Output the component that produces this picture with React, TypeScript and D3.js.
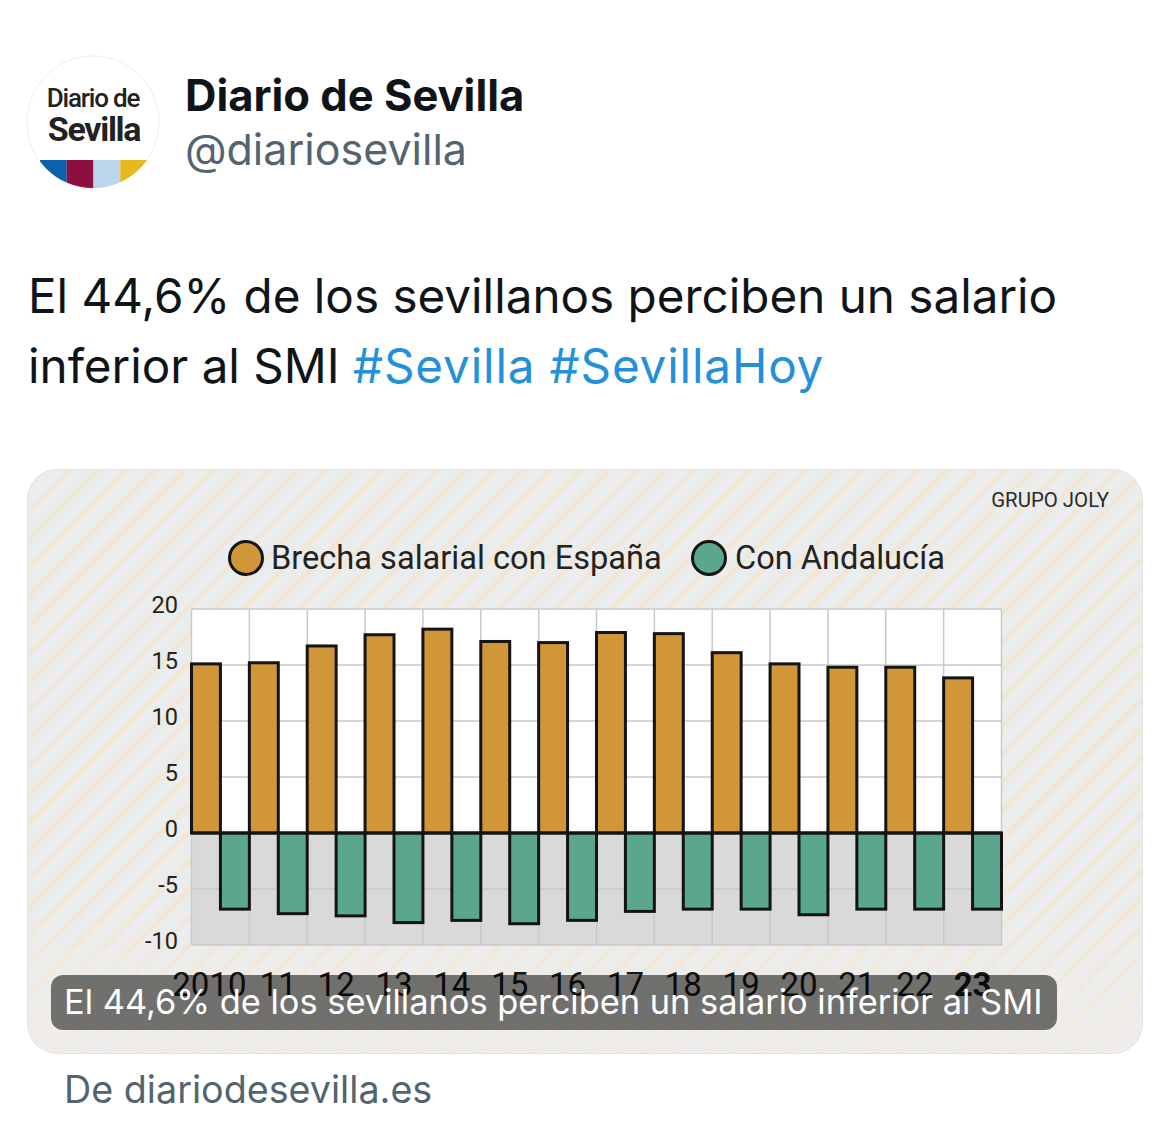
import React, { useEffect, useRef } from 'react';
import * as d3 from 'd3';

const years = ['2010', '11', '12', '13', '14', '15', '16', '17', '18', '19', '20', '21', '22', '23'];
const brechaEspana = [15.1, 15.2, 16.7, 17.7, 18.2, 17.1, 17.0, 17.9, 17.8, 16.1, 15.1, 14.8, 14.8, 13.85];
const brechaAndalucia = [-6.8, -7.2, -7.4, -8.0, -7.8, -8.1, -7.8, -7.0, -6.8, -6.8, -7.3, -6.8, -6.8, -6.8];
const yTicks = [20, 15, 10, 5, 0, -5, -10];
const logoColors = ['#0b62a8', '#8e0f3f', '#bcd5ec', '#e6b91e'];

const ORANGE = '#d09638';
const GREEN = '#5ba68f';
const INK = '#141414';
const CHART_FONT = 'Roboto, sans-serif';
const TWEET_FONT = 'Inter, "Noto Sans", sans-serif';

const App: React.FC = () => {
  const svgRef = useRef<SVGSVGElement>(null);

  useEffect(() => {
    if (!svgRef.current) return;
    const svg = d3.select(svgRef.current);
    svg.selectAll('*').remove();

    const defs = svg.append('defs');

    // card background stripes
    const hatch = defs.append('pattern')
      .attr('id', 'hatch')
      .attr('patternUnits', 'userSpaceOnUse')
      .attr('width', 20)
      .attr('height', 20)
      .attr('patternTransform', 'rotate(-45)');
    hatch.append('rect').attr('width', 20).attr('height', 20).attr('fill', '#ebecec');
    hatch.append('rect').attr('x', 0).attr('width', 20).attr('height', 5).attr('fill', '#f2e6d6');

    const fade = defs.append('linearGradient')
      .attr('id', 'fade')
      .attr('x1', 0).attr('y1', 0).attr('x2', 0).attr('y2', 1);
    fade.append('stop').attr('offset', '0.75').attr('stop-color', '#f1efeb').attr('stop-opacity', 0);
    fade.append('stop').attr('offset', '0.95').attr('stop-color', '#f1efeb').attr('stop-opacity', 0.55);

    defs.append('clipPath').attr('id', 'logoClip')
      .append('circle').attr('cx', 93).attr('cy', 122).attr('r', 66);

    // tweet header
    const logo = svg.append('g');
    logo.append('circle').attr('cx', 93).attr('cy', 122).attr('r', 66)
      .attr('fill', '#fff').attr('stroke', '#eeeeee');
    const stripe = d3.scaleBand<number>().domain(d3.range(logoColors.length)).range([40, 147]);
    logo.append('g').attr('clip-path', 'url(#logoClip)')
      .selectAll('rect').data(logoColors).enter().append('rect')
      .attr('x', (d, i) => stripe(i)!)
      .attr('y', 160)
      .attr('width', stripe.bandwidth())
      .attr('height', 30)
      .attr('fill', d => d);
    logo.append('text').attr('x', 93).attr('y', 107).attr('text-anchor', 'middle')
      .attr('font-family', CHART_FONT).attr('font-weight', 500).attr('font-size', 26)
      .attr('letter-spacing', -1.2).attr('fill', '#222').text('Diario de');
    logo.append('text').attr('x', 94).attr('y', 141).attr('text-anchor', 'middle')
      .attr('font-family', CHART_FONT).attr('font-weight', 700).attr('font-size', 34)
      .attr('letter-spacing', -1.3).attr('fill', '#222').text('Sevilla');

    svg.append('text').attr('x', 185).attr('y', 111)
      .attr('font-family', TWEET_FONT).attr('font-weight', 700).attr('font-size', 43.5)
      .attr('fill', '#0f1419').text('Diario de Sevilla');
    svg.append('text').attr('x', 185).attr('y', 165)
      .attr('font-family', TWEET_FONT).attr('font-size', 43)
      .attr('fill', '#536471').text('@diariosevilla');

    // tweet body
    svg.append('text').attr('x', 28).attr('y', 313)
      .attr('font-family', TWEET_FONT).attr('font-size', 47.6)
      .attr('fill', '#0f1419').text('El 44,6% de los sevillanos perciben un salario');
    const second = svg.append('text').attr('x', 28).attr('y', 383)
      .attr('font-family', TWEET_FONT).attr('font-size', 47.6)
      .attr('fill', '#0f1419');
    second.append('tspan').text('inferior al SMI ');
    second.append('tspan').attr('fill', '#2490da').attr('letter-spacing', 0.85).text('#Sevilla #SevillaHoy');

    // card
    svg.append('rect').attr('x', 27.5).attr('y', 469.5).attr('width', 1115).attr('height', 584).attr('rx', 30)
      .attr('fill', 'url(#hatch)').attr('stroke', '#dfe3e6');
    svg.append('rect').attr('x', 28).attr('y', 470).attr('width', 1114).attr('height', 583).attr('rx', 30)
      .attr('fill', 'url(#fade)');

    svg.append('text').attr('x', 1109).attr('y', 507).attr('text-anchor', 'end')
      .attr('font-family', CHART_FONT).attr('font-size', 20.4).attr('fill', '#2a2a2a').text('GRUPO JOLY');

    // legend
    const legend = svg.append('g').attr('font-family', CHART_FONT).attr('font-size', 32.6).attr('fill', '#222');
    legend.append('circle').attr('cx', 246).attr('cy', 558).attr('r', 16.5)
      .attr('fill', ORANGE).attr('stroke', INK).attr('stroke-width', 3);
    legend.append('text').attr('x', 271).attr('y', 569).text('Brecha salarial con España');
    legend.append('circle').attr('cx', 709).attr('cy', 558).attr('r', 16.5)
      .attr('fill', GREEN).attr('stroke', INK).attr('stroke-width', 3);
    legend.append('text').attr('x', 735).attr('y', 569).text('Con Andalucía');

    // chart
    const x = d3.scaleBand<string>().domain(years).range([191.5, 1001.5]);
    const inner = d3.scaleBand<string>().domain(['es', 'an']).range([0, x.bandwidth()]);
    const y = d3.scaleLinear().domain([-10, 20]).range([945, 609]);

    svg.append('rect').attr('x', x.range()[0]).attr('y', y(20))
      .attr('width', x.range()[1] - x.range()[0]).attr('height', y(0) - y(20)).attr('fill', '#fff');
    svg.append('rect').attr('x', x.range()[0]).attr('y', y(0))
      .attr('width', x.range()[1] - x.range()[0]).attr('height', y(-10) - y(0)).attr('fill', '#d9d9d9');

    const grid = svg.append('g').attr('stroke', '#c9c9c9').attr('stroke-width', 1.5);
    grid.selectAll('.h').data(yTicks).enter().append('line')
      .attr('x1', x.range()[0]).attr('x2', x.range()[1])
      .attr('y1', d => y(d)).attr('y2', d => y(d));
    grid.selectAll('.v').data(d3.range(years.length + 1)).enter().append('line')
      .attr('x1', d => x.range()[0] + d * x.step()).attr('x2', d => x.range()[0] + d * x.step())
      .attr('y1', y(20)).attr('y2', y(-10));

    svg.append('g').selectAll('rect').data(brechaEspana).enter().append('rect')
      .attr('x', (d, i) => x(years[i])! + inner('es')!)
      .attr('y', d => y(d))
      .attr('width', inner.bandwidth())
      .attr('height', d => y(0) - y(d))
      .attr('fill', ORANGE).attr('stroke', INK).attr('stroke-width', 3);

    svg.append('g').selectAll('rect').data(brechaAndalucia).enter().append('rect')
      .attr('x', (d, i) => x(years[i])! + inner('an')!)
      .attr('y', y(0))
      .attr('width', inner.bandwidth())
      .attr('height', d => y(d) - y(0))
      .attr('fill', GREEN).attr('stroke', INK).attr('stroke-width', 3);

    svg.append('line').attr('x1', x.range()[0]).attr('x2', x.range()[1])
      .attr('y1', y(0)).attr('y2', y(0)).attr('stroke', INK).attr('stroke-width', 3);

    svg.append('g').selectAll('text').data(yTicks).enter().append('text')
      .attr('x', 178).attr('y', d => y(d) + 4)
      .attr('text-anchor', 'end')
      .attr('font-family', CHART_FONT).attr('font-size', 23.5).attr('fill', '#222')
      .text(d => d);

    svg.append('g').selectAll('text').data(years).enter().append('text')
      .attr('x', d => x(d)! + x.bandwidth() / 2 + (d === '2010' ? -11 : 0))
      .attr('y', 996)
      .attr('text-anchor', 'middle')
      .attr('font-family', CHART_FONT).attr('font-size', 33)
      .attr('font-weight', d => d === '23' ? 700 : 400)
      .attr('fill', '#161616')
      .text(d => d);

    // caption pill over the image
    svg.append('rect').attr('x', 51).attr('y', 975).attr('width', 1006).attr('height', 55).attr('rx', 12)
      .attr('fill', 'rgba(0,0,0,0.53)');
    svg.append('text').attr('x', 64).attr('y', 1014)
      .attr('font-family', TWEET_FONT).attr('font-size', 34.4)
      .attr('fill', '#fff').text('El 44,6% de los sevillanos perciben un salario inferior al SMI');

    svg.append('text').attr('x', 64).attr('y', 1103)
      .attr('font-family', TWEET_FONT).attr('font-size', 37.7)
      .attr('fill', '#536471').text('De diariodesevilla.es');
  }, []);

  return (
    <svg
      ref={svgRef}
      width={1170}
      height={1146}
      style={{ position: 'absolute', left: 0, top: 0, background: '#fff' }}
    />
  );
};

export default App;
